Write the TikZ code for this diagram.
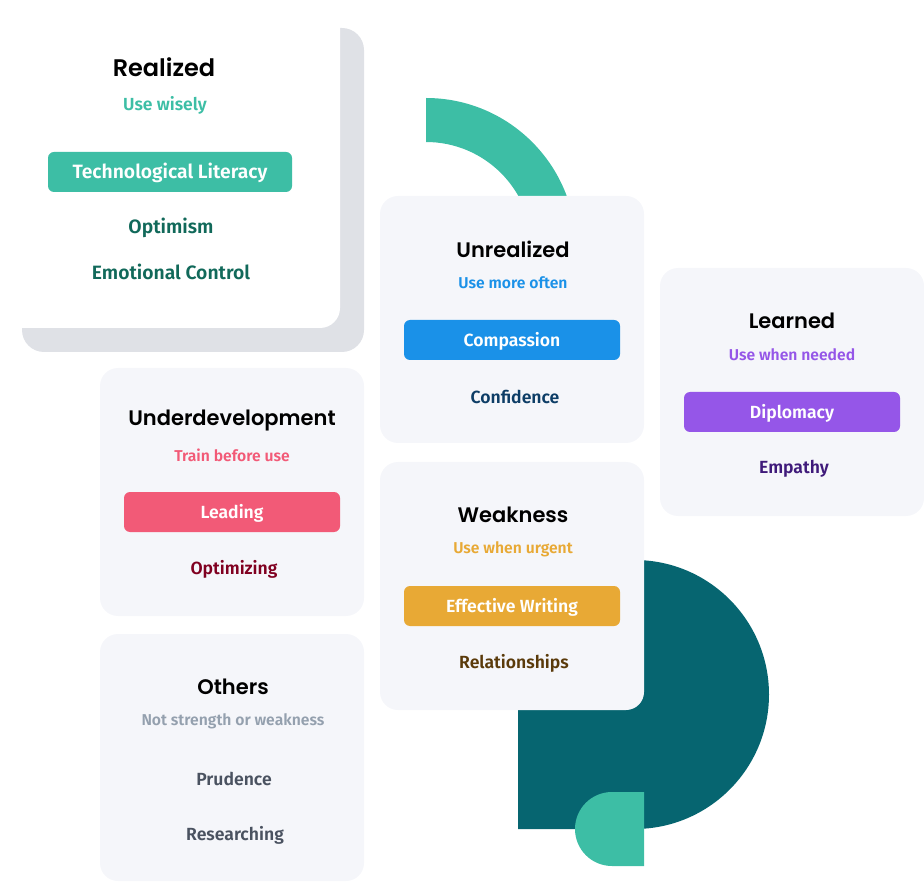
\documentclass[tikz,border=0pt]{standalone}
\usepackage{fontspec}
\newfontfamily\titlefont{Poppins SemiBold}
\newfontfamily\bodyfont{Fira Sans SemiBold}
\definecolor{tealA}{HTML}{3DBEA5}
\definecolor{tealD}{HTML}{066570}
\definecolor{shadowG}{HTML}{DFE1E6}
\definecolor{cardF}{HTML}{F5F6FA}
\definecolor{blueA}{HTML}{1A91E8}
\definecolor{purpA}{HTML}{9556E8}
\definecolor{pinkA}{HTML}{F25A77}
\definecolor{ambA}{HTML}{E8A935}
\definecolor{greenT}{HTML}{11695A}
\definecolor{blueT}{HTML}{0D3D66}
\definecolor{purpT}{HTML}{3F1A7A}
\definecolor{redT}{HTML}{800020}
\definecolor{brownT}{HTML}{5A3A0A}
\definecolor{grayT}{HTML}{4A5260}
\definecolor{graySub}{HTML}{94A0AE}
\tikzset{
  cardbox/.style={fill=cardF, rounded corners=18pt},
  ttl/.style={font=\titlefont\fontsize{21}{25}\selectfont, text=black, anchor=center, inner sep=0pt},
  sub/.style={font=\bodyfont\fontsize{15.7}{19}\selectfont, anchor=center, inner sep=0pt, yshift=-1pt},
  itm/.style={font=\bodyfont\fontsize{17.6}{21}\selectfont, anchor=center, inner sep=0pt, yshift=-1pt},
  btn/.style={font=\bodyfont\fontsize{17.6}{21}\selectfont, text=white, rounded corners=6pt, minimum width=216pt, minimum height=40pt, inner sep=0pt, anchor=center, text depth=2pt},
  bigttl/.style={font=\titlefont\fontsize{24}{28}\selectfont},
  bigsub/.style={font=\bodyfont\fontsize{17.5}{21}\selectfont},
  bigitm/.style={font=\bodyfont\fontsize{19.3}{23}\selectfont},
}
\begin{document}
\begin{tikzpicture}[x=1pt,y=-1pt]
\useasboundingbox (0,0) rectangle (924,882);
% decorative shapes
\fill[tealA] (426,98) arc[start angle=-90, end angle=0, radius=150] -- ++(-44,0) arc[start angle=0, end angle=-90, radius=106] -- cycle;
\fill[tealD] (518,829) -- (518,560) -- (634.5,560) arc[start angle=-90, end angle=90, radius=134.5] -- cycle;
\fill[tealA] (644,792) -- (612,792) arc[start angle=-90, end angle=-270, radius=37] -- (644,866) -- cycle;
% Realized card
\fill[shadowG, rounded corners=22pt] (22,28) rectangle (364,352);
\fill[white, rounded corners=20pt] (-20,4) rectangle (340,328);
\node[ttl, bigttl] (t1) at (164,67) {Realized};
\node[sub, bigsub, text=tealA] (s1) at (165,104) {Use wisely};
\node[btn, bigitm, fill=tealA, minimum width=244pt] (b1) at (170,172) {Technological Literacy};
\node[itm, bigitm, text=greenT] (i1a) at (171,227) {Optimism};
\node[itm, bigitm, text=greenT] (i1b) at (171,271) {Emotional Control};
% Unrealized
\fill[cardbox] (380,196) rectangle (644,443);
\node[ttl] (t2) at (513,249) {Unrealized};
\node[sub, text=blueA] (s2) at (513,282) {Use more often};
\node[btn, fill=blueA] (b2) at (512,340) {Compassion};
\node[itm, text=blueT] (i2) at (515,396) {Confidence};
% Learned
\fill[cardbox] (660,268) rectangle (924,516);
\node[ttl] (t3) at (792,321) {Learned};
\node[sub, text=purpA] (s3) at (792,354) {Use when needed};
\node[btn, fill=purpA] (b3) at (792,412) {Diplomacy};
\node[itm, text=purpT] (i3) at (794,468) {Empathy};
% Underdevelopment
\fill[cardbox] (100,368) rectangle (364,616);
\node[ttl] (t4) at (232,421) {Underdevelopment};
\node[sub, text=pinkA] (s4) at (232,454) {Train before use};
\node[btn, fill=pinkA] (b4) at (232,512) {Leading};
\node[itm, text=redT] (i4) at (234,568) {Optimizing};
% Weakness
\fill[cardbox] (380,462) rectangle (644,710);
\node[ttl] (t5) at (513,515) {Weakness};
\node[sub, text=ambA] (s5) at (513,548) {Use when urgent};
\node[btn, fill=ambA] (b5) at (512,606) {Effective Writing};
\node[itm, text=brownT] (i5) at (514,662) {Relationships};
% Others
\fill[cardbox] (100,634) rectangle (364,881);
\node[ttl] (t6) at (233,687) {Others};
\node[sub, text=graySub] (s6) at (233,720) {Not strength or weakness};
\node[itm, text=grayT] (i6a) at (234,778) {Prudence};
\node[itm, text=grayT] (i6b) at (235,834) {Researching};
\end{tikzpicture}
\end{document}
